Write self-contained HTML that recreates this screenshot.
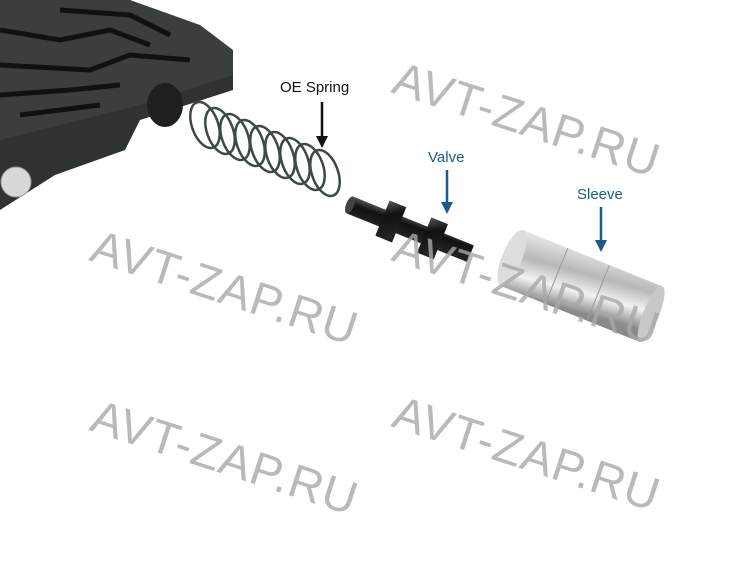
<!DOCTYPE html>
<html><head><style>body{margin:0;background:#fff}svg{display:block}</style></head><body>
<svg width="750" height="580" viewBox="0 0 750 580" xmlns="http://www.w3.org/2000/svg">
<defs>
<linearGradient id="sl" x1="0" y1="0" x2="0.3" y2="1"><stop offset="0" stop-color="#e8e8e8"/><stop offset="0.4" stop-color="#b8b8b8"/><stop offset="0.7" stop-color="#f2f2f2"/><stop offset="1" stop-color="#8a8a8a"/></linearGradient>
<linearGradient id="vl" x1="0" y1="0" x2="0.3" y2="1"><stop offset="0" stop-color="#555"/><stop offset="0.4" stop-color="#111"/><stop offset="1" stop-color="#222"/></linearGradient>
</defs>
<polygon points="0,0 130,0 200,25 233,50 233,85 140,118 60,150 0,170" fill="#3a3f3d"/>
<polygon points="0,140 140,105 233,75 233,90 140,120 125,150 55,175 0,210" fill="#2e3331"/>
<g stroke="#111" stroke-width="5" fill="none">
<path d="M0,30 L60,40 L110,30 L150,45"/><path d="M0,65 L90,70 L130,55 L190,60"/><path d="M0,95 L70,90 L120,85"/><path d="M20,115 L100,105"/><path d="M60,10 L130,15 L170,35"/>
</g>
<ellipse cx="165" cy="105" rx="18" ry="22" fill="#1c201f"/>
<circle cx="16" cy="182" r="15" fill="#d8d8d8" stroke="#999"/>
<g fill="none" stroke="#3c4a40" stroke-width="2.5">
<ellipse cx="205" cy="125" rx="13" ry="24" transform="rotate(-20 205 125)"/>
<ellipse cx="220" cy="131" rx="13" ry="24" transform="rotate(-20 220 131)"/>
<ellipse cx="235" cy="137" rx="13" ry="24" transform="rotate(-20 235 137)"/>
<ellipse cx="250" cy="143" rx="13" ry="24" transform="rotate(-20 250 143)"/>
<ellipse cx="265" cy="149" rx="13" ry="24" transform="rotate(-20 265 149)"/>
<ellipse cx="280" cy="155" rx="13" ry="24" transform="rotate(-20 280 155)"/>
<ellipse cx="295" cy="161" rx="13" ry="24" transform="rotate(-20 295 161)"/>
<ellipse cx="310" cy="167" rx="13" ry="24" transform="rotate(-20 310 167)"/>
<ellipse cx="325" cy="173" rx="13" ry="24" transform="rotate(-20 325 173)"/>
</g>
<g transform="rotate(22 350 205)">
<rect x="350" y="196" width="130" height="18" fill="url(#vl)"/>
<rect x="385" y="186" width="18" height="38" fill="url(#vl)"/>
<rect x="430" y="186" width="18" height="38" fill="url(#vl)"/>
<ellipse cx="350" cy="205" rx="4" ry="9" fill="#444"/>
</g>
<g transform="rotate(22 512 258)">
<rect x="512" y="228" width="150" height="60" fill="url(#sl)"/>
<ellipse cx="512" cy="258" rx="10" ry="30" fill="#ddd"/>
<line x1="560" y1="228" x2="560" y2="288" stroke="#999"/>
<line x1="605" y1="228" x2="605" y2="288" stroke="#999"/>
<ellipse cx="662" cy="258" rx="8" ry="30" fill="#c8c8c8"/>
</g>
<g font-family="Liberation Sans, sans-serif" font-size="47" letter-spacing="1" fill="#a8a8a8" opacity="0.8">
<text x="390" y="92" transform="rotate(18 390 92)">AVT-ZAP.RU</text>
<text x="88" y="260" transform="rotate(18 88 260)">AVT-ZAP.RU</text>
<text x="390" y="260" transform="rotate(18 390 260)">AVT-ZAP.RU</text>
<text x="88" y="430" transform="rotate(18 88 430)">AVT-ZAP.RU</text>
<text x="390" y="426" transform="rotate(18 390 426)">AVT-ZAP.RU</text>
</g>
<g font-family="Liberation Sans, sans-serif" font-size="15">
<text x="280" y="92" fill="#111">OE Spring</text>
<text x="428" y="162" fill="#1d5a8a">Valve</text>
<text x="577" y="199" fill="#1d5a8a">Sleeve</text>
</g>
<g stroke-width="2.5">
<line x1="322" y1="102" x2="322" y2="138" stroke="#111"/>
<line x1="447" y1="170" x2="447" y2="204" stroke="#1d5a8a"/>
<line x1="601" y1="207" x2="601" y2="242" stroke="#1d5a8a"/>
</g>
<polygon points="316,136 328,136 322,148" fill="#111"/>
<polygon points="441,202 453,202 447,214" fill="#1d5a8a"/>
<polygon points="595,240 607,240 601,252" fill="#1d5a8a"/>
</svg>
</body></html>
